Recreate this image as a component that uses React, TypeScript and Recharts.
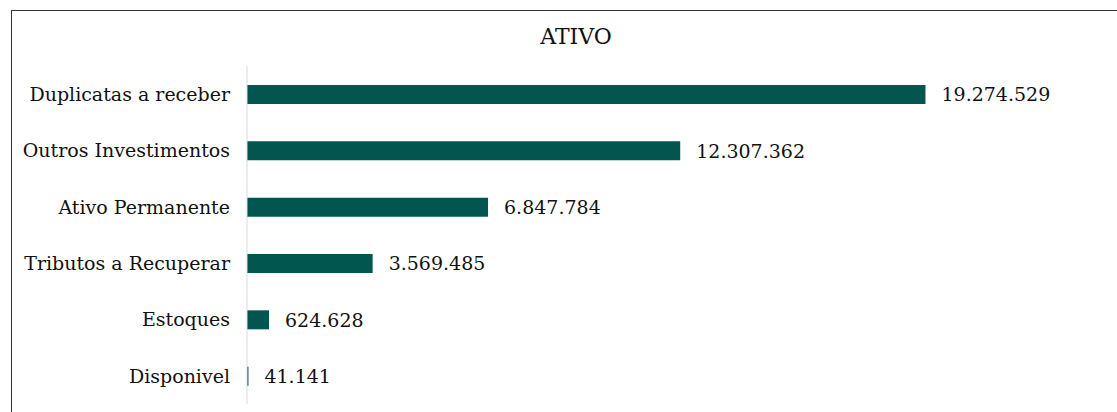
import React from "react";
import { BarChart, Bar, XAxis, YAxis, LabelList } from "recharts";

const categories = [
  "Duplicatas a receber",
  "Outros Investimentos",
  "Ativo Permanente",
  "Tributos a Recuperar",
  "Estoques",
  "Disponivel",
];
const values = [19274529, 12307362, 6847784, 3569485, 624628, 41141];

const data = categories.map((name, i) => ({ name, value: values[i] }));

const FONT = "'DejaVu Serif', serif";
const fmt = (v: any) => Number(v).toLocaleString("de-DE");

export default function App() {
  return (
    <div
      style={{
        position: "absolute",
        left: 0,
        top: 0,
        width: 1117,
        height: 412,
        overflow: "hidden",
        background: "#fff",
        fontFamily: FONT,
      }}
    >
      <div
        style={{
          position: "absolute",
          left: 11,
          top: 10,
          width: 1200,
          height: 600,
          border: "1px solid #333",
        }}
      />
      <div
        style={{
          position: "absolute",
          left: 476,
          width: 200,
          top: 22,
          textAlign: "center",
          fontSize: 22,
          lineHeight: "30px",
          color: "#111",
        }}
      >
        ATIVO
      </div>
      <div style={{ position: "absolute", left: 0, top: 0 }}>
        <BarChart
          width={1117}
          height={412}
          data={data}
          layout="vertical"
          margin={{ top: 66, right: 166, bottom: 8, left: 0 }}
          barCategoryGap="33%"
        >
          <XAxis type="number" hide domain={[0, 20000000]} />
          <YAxis
            type="category"
            dataKey="name"
            width={247}
            tickSize={0}
            tickMargin={17}
            axisLine={{ stroke: "#d9d9d9" }}
            tickLine={false}
            tick={{ fill: "#111", fontSize: 19, fontFamily: FONT }}
            interval={0}
          />
          <Bar dataKey="value" fill="#02564F" barSize={19} isAnimationActive={false}>
            <LabelList
              dataKey="value"
              position="right"
              offset={16}
              formatter={fmt}
              style={{ fill: "#111", fontSize: 19, fontFamily: FONT }}
            />
          </Bar>
        </BarChart>
      </div>
    </div>
  );
}
